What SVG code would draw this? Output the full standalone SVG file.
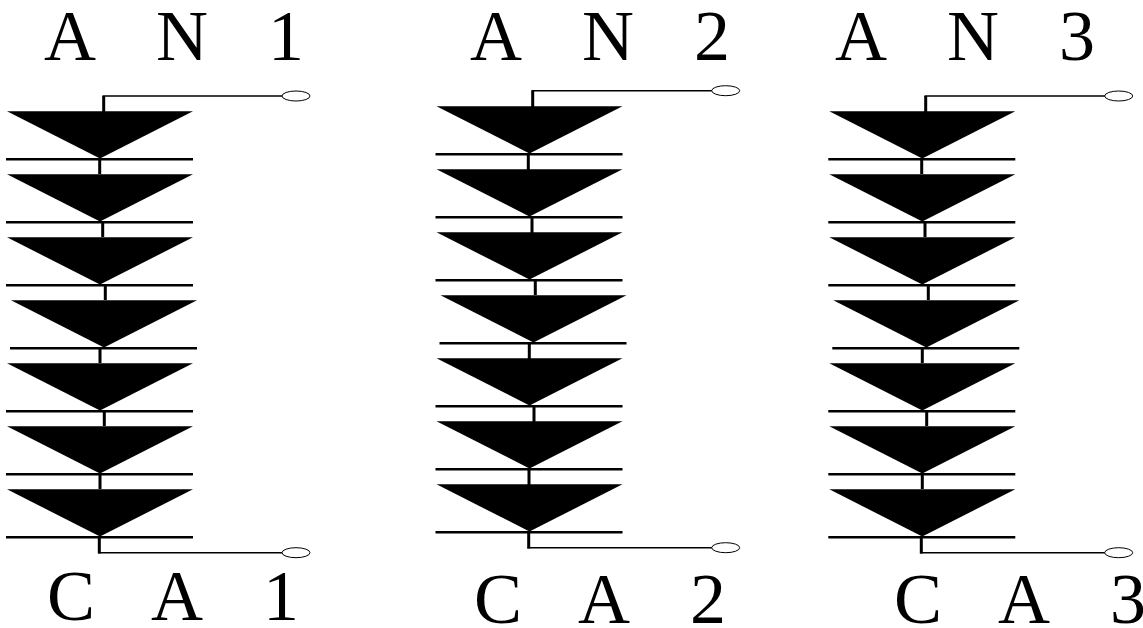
<svg xmlns="http://www.w3.org/2000/svg" xmlns:xlink="http://www.w3.org/1999/xlink" width="1143" height="628" viewBox="0 0 1143 628">
<style>
.t{font-family:"Liberation Serif","Times New Roman",serif;font-size:72px;fill:#000;font-kerning:none;word-spacing:42px}
.d{fill:#000;stroke:none}
.b{stroke:#000;stroke-width:2.4;fill:none}
.s{stroke:#000;stroke-width:3;fill:none}
.w{stroke:#000;stroke-width:1.6;fill:none}
.e{fill:#fff;stroke:#000;stroke-width:1}
</style>
<defs>
<g id="diode"><polygon class="d" points="7,111.300 193,111.300 100,158.500"/><line class="b" x1="6" y1="159.300" x2="193" y2="159.300"/></g>
<g id="stack">
<use xlink:href="#diode"/>
<use xlink:href="#diode" y="63"/>
<use xlink:href="#diode" y="126"/>
<use xlink:href="#diode" x="4" y="189"/>
<use xlink:href="#diode" y="252"/>
<use xlink:href="#diode" y="315"/>
<use xlink:href="#diode" y="378"/>
</g>
</defs>
<g id="connectors">
<path class="s" d="M103.700 112V96M99.700 159V174M102.700 222V237M105.300 285V300M100 347V363M104.300 411V426M100 474V489M99.300 537V553.500"/>
<path class="w" d="M102.500 96H284M98.500 552.700H284"/>
<path class="s" d="M532.700 107V90.700M528.300 154V170M532 217V233M535.300 280V295M529.300 342V359M534 406V422M529 469V485M528.700 532V548.500"/>
<path class="w" d="M531.500 90.700H713M527.500 547.700H713"/>
<path class="s" d="M925.700 112V96M921.700 159V174M925 222V237M928.300 285V300M922.300 347V363M926.700 411V426M922.300 474V489M921.300 537V553.500"/>
<path class="w" d="M924.500 96H1106M920 552.700H1106"/>
</g>
<g id="string1"><use xlink:href="#stack"/><ellipse class="e" cx="296" cy="96" rx="14" ry="5"/><ellipse class="e" cx="296" cy="552.700" rx="14" ry="5"/></g>
<g id="string2"><use xlink:href="#stack" x="429.500" y="-5"/><ellipse class="e" cx="725.700" cy="90.700" rx="14" ry="5"/><ellipse class="e" cx="725.700" cy="547.700" rx="14" ry="5"/></g>
<g id="string3"><use xlink:href="#stack" x="822.300"/><ellipse class="e" cx="1118.700" cy="96" rx="14" ry="5"/><ellipse class="e" cx="1118.700" cy="552.700" rx="14" ry="5"/></g>
<g id="labels">
<text id="an1" class="t" x="44" y="60">A N 1</text>
<text id="an2" class="t" x="470" y="60">A N 2</text>
<text id="an3" class="t" x="835" y="60">A N 3</text>
<text id="ca1" class="t" x="47" y="620" dx="0 0 -4">C A 1</text>
<text id="ca2" class="t" x="474" y="623" dx="0 0 -4">C A 2</text>
<text id="ca3" class="t" x="894" y="623" dx="0 0 -4">C A 3</text>
</g>
</svg>
